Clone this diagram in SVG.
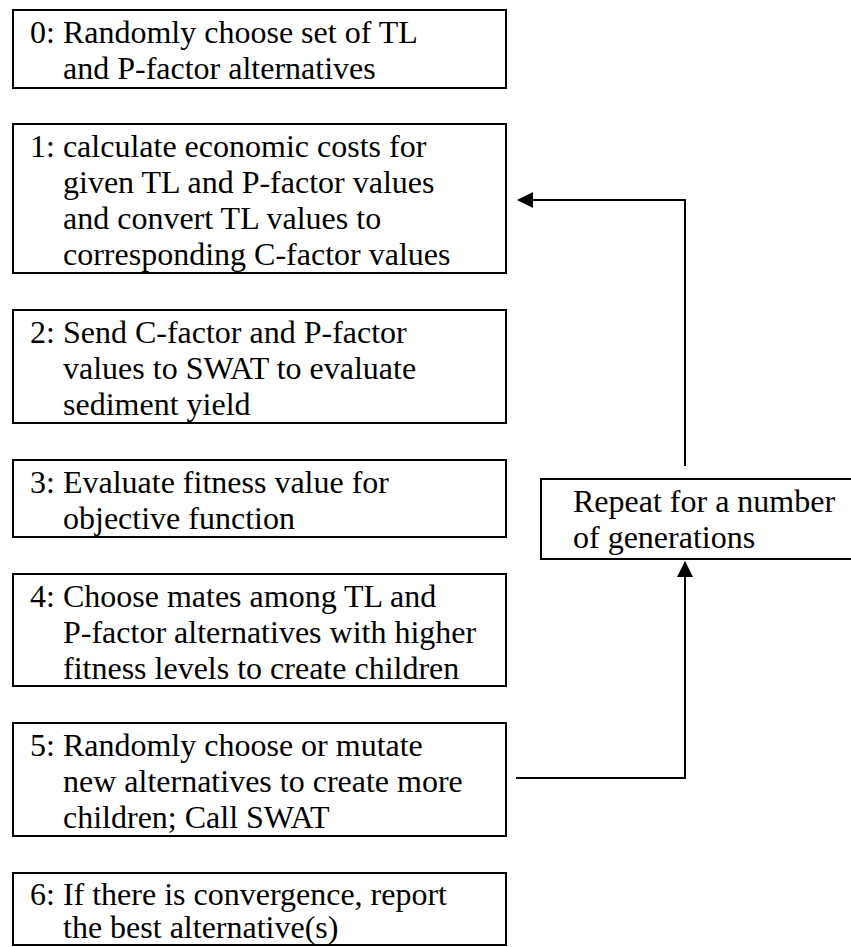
<svg xmlns="http://www.w3.org/2000/svg" width="851" height="947" viewBox="0 0 851 947">
<style>
.box{fill:#fff;stroke:#000;stroke-width:2}
.t{font-family:"Liberation Serif","Times New Roman",serif;font-size:32px;fill:#000}
.c{fill:none;stroke:#000;stroke-width:2}
</style>
<defs>
<marker id="ah" markerUnits="userSpaceOnUse" markerWidth="16" markerHeight="16" viewBox="0 0 16 16" refX="15" refY="8" orient="auto">
<path d="M0,0 L16,8 L0,16 Z" fill="#000"/>
</marker>
</defs>
<rect width="851" height="947" fill="#fff"/>
<g id="n0"><rect class="box" x="13" y="10" width="493" height="78"/>
<text class="t" x="30" y="43">0: Randomly choose set of TL</text>
<text class="t" x="63" y="79">and P-factor alternatives</text></g>
<g id="n1"><rect class="box" x="13" y="124" width="493" height="149"/>
<text class="t" x="30" y="157">1: calculate economic costs for</text>
<text class="t" x="63" y="193">given TL and P-factor values</text>
<text class="t" x="63" y="229">and convert TL values to</text>
<text class="t" x="63" y="265">corresponding C-factor values</text></g>
<g id="n2"><rect class="box" x="13" y="310" width="493" height="113"/>
<text class="t" x="30" y="343">2: Send C-factor and P-factor</text>
<text class="t" x="63" y="379">values to SWAT to evaluate</text>
<text class="t" x="63" y="415">sediment yield</text></g>
<g id="n3"><rect class="box" x="13" y="460" width="493" height="77"/>
<text class="t" x="30" y="493">3: Evaluate fitness value for</text>
<text class="t" x="63" y="529">objective function</text></g>
<g id="n4"><rect class="box" x="13" y="574" width="493" height="112"/>
<text class="t" x="30" y="607">4: Choose mates among TL and</text>
<text class="t" x="63" y="643">P-factor alternatives with higher</text>
<text class="t" x="63" y="679">fitness levels to create children</text></g>
<g id="n5"><rect class="box" x="13" y="723" width="493" height="113"/>
<text class="t" x="30" y="756">5: Randomly choose or mutate</text>
<text class="t" x="63" y="792">new alternatives to create more</text>
<text class="t" x="63" y="828">children; Call SWAT</text></g>
<g id="n6"><rect class="box" x="13" y="873" width="493" height="72"/>
<text class="t" x="30" y="905">6: If there is convergence, report</text>
<text class="t" x="63" y="938">the best alternative(s)</text></g>
<g id="repeat"><rect class="box" x="541" y="479" width="330" height="80"/>
<text class="t" x="573" y="512">Repeat for a number</text>
<text class="t" x="573" y="548">of generations</text></g>
<g id="connectors">
<polyline class="c" points="516,778 685,778 685,562" marker-end="url(#ah)"/>
<polyline class="c" points="685,466 685,200 518,200" marker-end="url(#ah)"/>
</g>
</svg>
